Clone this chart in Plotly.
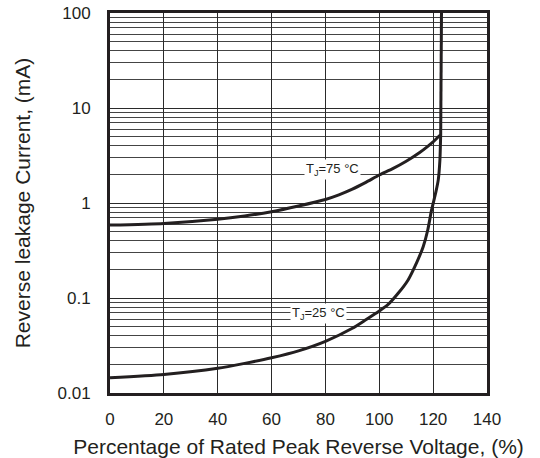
import plotly.graph_objects as go
import math

# Data (percentage of rated peak reverse voltage vs leakage current, mA)
x75 = [0, 20, 40, 50, 60, 70, 80, 85, 90, 95, 100, 105, 110, 115, 118, 120, 122, 122.8]
y75 = [0.586, 0.61, 0.675, 0.73, 0.81, 0.93, 1.09, 1.22, 1.4, 1.65, 1.97, 2.3, 2.75, 3.4, 3.95, 4.4, 5.0, 5.2]

x25 = [0, 20, 40, 50, 60, 70, 80, 90, 95, 100, 103.2, 107, 110.7, 114, 116.3, 118, 119.4, 121, 121.9, 122.5, 122.8]
y25 = [0.0145, 0.0157, 0.0182, 0.0205, 0.0235, 0.0278, 0.035, 0.048, 0.059, 0.073, 0.085, 0.112, 0.155, 0.24, 0.347, 0.52, 0.84, 1.3, 1.75, 2.8, 5.2]

x_break = [122.8, 123.1]
y_break = [5.2, 100]

x_ticks = [0, 20, 40, 60, 80, 100, 120, 140]
y_ticks = [0.01, 0.1, 1, 10, 100]
y_ticktext = ["0.01", "0.1", "1", "10", "100"]

labels = [("T<sub>J</sub>=75 °C", 82.5, 2.26), ("T<sub>J</sub>=25 °C", 77.3, 0.068)]

INK = "#231f20"
FONT = "Liberation Sans, Arial, sans-serif"

fig = go.Figure()
for xs, ys in [(x75, y75), (x25, y25), (x_break, y_break)]:
    fig.add_trace(go.Scatter(x=xs, y=ys, mode="lines",
                             line=dict(color=INK, width=3, shape="spline", smoothing=0.6),
                             showlegend=False, hoverinfo="skip"))

for txt, lx, ly in labels:
    fig.add_annotation(x=lx, y=math.log10(ly), text=txt, showarrow=False,
                       font=dict(family=FONT, size=13, color=INK),
                       bgcolor="white", borderpad=1)

fig.update_layout(
    width=540, height=458,
    margin=dict(l=110, r=53, t=13, b=65, autoexpand=False),
    paper_bgcolor="white", plot_bgcolor="white",
    font=dict(family=FONT, size=17, color=INK),
)
fig.update_xaxes(
    range=[0, 140], tickvals=x_ticks, showgrid=True, gridcolor="#2a2a2a", gridwidth=1,
    showline=True, linecolor=INK, linewidth=3, mirror=True, zeroline=False,
    ticks="", ticklabelstandoff=9, automargin=False,
    title=dict(text="Percentage of Rated Peak Reverse Voltage, (%)", font=dict(size=21), standoff=11),
)
fig.update_yaxes(
    type="log", range=[-2, 2], tickvals=y_ticks, ticktext=y_ticktext,
    showgrid=True, gridcolor="#2a2a2a", gridwidth=1,
    minor=dict(dtick="D1", showgrid=True, gridcolor="#444444", gridwidth=1, ticks=""),
    showline=True, linecolor=INK, linewidth=3, mirror=True, zeroline=False,
    ticks="", ticklabelstandoff=13, automargin=False,
    title=dict(text="Reverse leakage Current, (mA)", font=dict(size=21), standoff=22),
)

fig.write_html("out.html")
